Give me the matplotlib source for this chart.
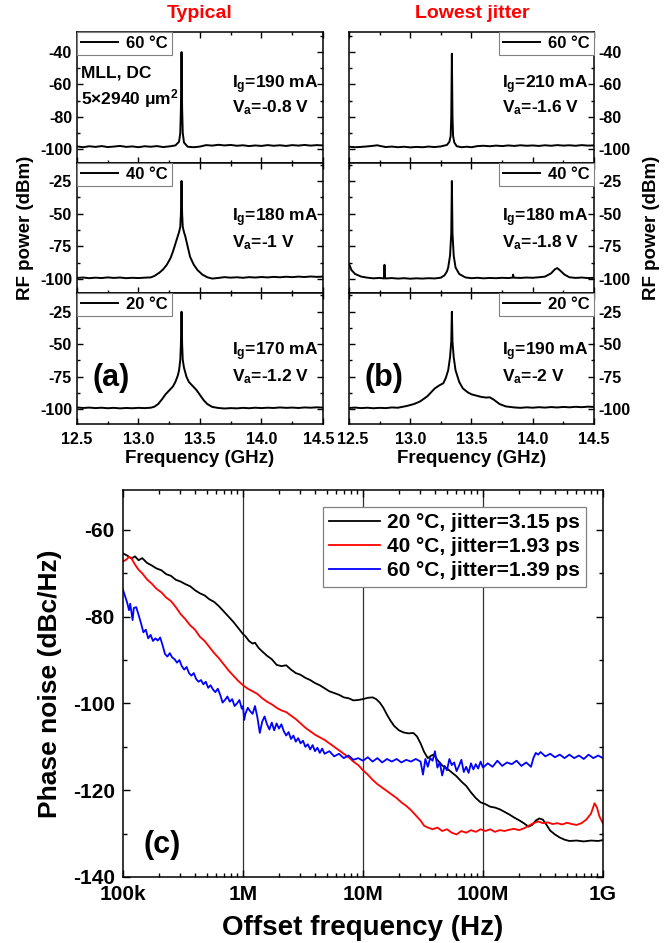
import numpy as np
import matplotlib
matplotlib.use("Agg")
from matplotlib import pyplot as plt
from matplotlib.ticker import MultipleLocator, FuncFormatter, LogLocator, NullFormatter

plt.rcParams["font.family"] = ["Liberation Sans", "DejaVu Sans"]
plt.rcParams["font.weight"] = "bold"
plt.rcParams["axes.labelweight"] = "bold"
plt.rcParams["axes.unicode_minus"] = False
plt.rcParams["mathtext.fontset"] = "custom"
plt.rcParams["mathtext.rm"] = "Liberation Sans:bold"
plt.rcParams["mathtext.it"] = "Liberation Sans:bold"
plt.rcParams["mathtext.bf"] = "Liberation Sans:bold"
plt.rcParams["mathtext.default"] = "regular"

# ---- RF spectra, "Typical" column (GHz, dBm)
typ60_f = [12.50, 12.55, 12.60, 12.65, 12.70, 12.75, 12.80, 12.85, 12.90, 12.95,
           13.00, 13.05, 13.10, 13.15, 13.20, 13.25, 13.30, 13.33, 13.34, 13.345,
           13.35, 13.355, 13.36, 13.37, 13.40, 13.45, 13.50, 13.55, 13.60, 13.65,
           13.70, 13.75, 13.80, 13.85, 13.90, 13.95, 14.00, 14.05, 14.10, 14.15,
           14.20, 14.25, 14.30, 14.35, 14.40, 14.45, 14.50]
typ60_p = [-98.4, -98.9, -98.3, -98.7, -98.2, -98.8, -98.5, -98.1, -98.7, -98.4,
           -98.9, -98.3, -98.6, -98.2, -98.8, -98.4, -97.8, -95.5, -90.0, -75.0,
           -40.0, -75.0, -90.0, -96.0, -98.6, -98.9, -98.5, -97.6, -97.9, -97.4,
           -97.8, -97.5, -98.0, -97.7, -98.2, -97.8, -98.1, -97.6, -98.0, -97.7,
           -98.1, -97.6, -97.9, -97.5, -97.9, -97.6, -97.8]

typ40_f = [12.50, 12.55, 12.60, 12.65, 12.70, 12.75, 12.80, 12.85, 12.90, 12.95,
           13.00, 13.05, 13.10, 13.13, 13.17, 13.20, 13.23, 13.26, 13.28, 13.30,
           13.32, 13.33, 13.34, 13.345, 13.35, 13.355, 13.36, 13.37, 13.38, 13.40,
           13.42, 13.45, 13.48, 13.52, 13.56, 13.60, 13.65, 13.70, 13.75, 13.80,
           13.85, 13.90, 13.95, 14.00, 14.05, 14.10, 14.15, 14.20, 14.25, 14.30,
           14.35, 14.40, 14.45, 14.50]
typ40_p = [-99.0, -98.7, -99.2, -98.8, -99.1, -98.6, -99.0, -98.7, -99.2, -98.9,
           -99.1, -98.8, -98.6, -97.5, -95.0, -92.5, -89.0, -84.0, -79.0, -73.0,
           -67.0, -64.0, -60.0, -50.0, -25.0, -50.0, -60.0, -64.0, -67.0, -75.0,
           -83.0, -89.0, -93.0, -96.5, -98.5, -99.5, -99.0, -98.4, -98.8, -98.5,
           -98.9, -98.4, -98.7, -98.3, -98.6, -98.2, -98.5, -98.1, -98.4, -98.0,
           -98.3, -97.9, -98.2, -98.0]

typ20_f = [12.50, 12.55, 12.60, 12.65, 12.70, 12.75, 12.80, 12.85, 12.90, 12.95,
           13.00, 13.05, 13.10, 13.13, 13.16, 13.19, 13.22, 13.25, 13.28, 13.30,
           13.32, 13.33, 13.34, 13.345, 13.35, 13.355, 13.36, 13.37, 13.39, 13.41,
           13.44, 13.47, 13.50, 13.53, 13.56, 13.60, 13.65, 13.70, 13.75, 13.80,
           13.85, 13.90, 13.95, 14.00, 14.05, 14.10, 14.15, 14.20, 14.25, 14.30,
           14.35, 14.40, 14.45, 14.50]
typ20_p = [-98.6, -99.0, -98.7, -99.1, -98.8, -99.2, -98.9, -99.3, -99.0, -99.2,
           -98.9, -99.1, -98.8, -98.0, -96.0, -92.5, -88.5, -85.5, -82.5, -79.0,
           -74.0, -70.0, -62.0, -50.0, -25.0, -50.0, -62.0, -68.0, -75.0, -79.0,
           -82.0, -85.0, -89.0, -93.0, -96.0, -98.2, -99.0, -99.4, -99.1, -99.3,
           -98.9, -99.2, -98.8, -99.1, -98.8, -99.0, -98.6, -98.9, -98.7, -99.0,
           -98.6, -98.8, -98.5, -98.7]

# ---- RF spectra, "Lowest jitter" column
low60_f = [12.50, 12.55, 12.60, 12.65, 12.70, 12.73, 12.76, 12.80, 12.85, 12.90,
           12.95, 13.00, 13.05, 13.10, 13.15, 13.20, 13.25, 13.30, 13.32, 13.33,
           13.335, 13.34, 13.345, 13.35, 13.36, 13.38, 13.42, 13.46, 13.50, 13.55,
           13.60, 13.65, 13.70, 13.75, 13.80, 13.85, 13.90, 13.95, 14.00, 14.05,
           14.10, 14.15, 14.20, 14.25, 14.30, 14.35, 14.40, 14.45, 14.50]
low60_p = [-98.6, -98.9, -98.7, -98.4, -98.0, -97.7, -98.2, -98.8, -98.5, -98.9,
           -98.6, -99.0, -98.7, -98.9, -98.5, -98.8, -98.4, -97.5, -95.5, -92.0,
           -80.0, -41.0, -80.0, -92.0, -96.0, -98.3, -98.9, -98.6, -98.9, -98.2,
           -98.0, -98.3, -97.9, -98.2, -97.8, -98.1, -97.7, -98.0, -97.8, -98.1,
           -97.7, -98.0, -97.6, -97.9, -97.7, -98.0, -97.6, -97.9, -97.8]

low40_f = [12.50, 12.52, 12.55, 12.60, 12.65, 12.70, 12.75, 12.785, 12.79, 12.795,
           12.85, 12.90, 12.95, 13.00, 13.05, 13.10, 13.15, 13.20, 13.25, 13.28,
           13.30, 13.31, 13.325, 13.335, 13.34, 13.345, 13.355, 13.37, 13.40, 13.45,
           13.50, 13.55, 13.60, 13.65, 13.70, 13.75, 13.80, 13.835, 13.84, 13.845,
           13.90, 13.95, 14.00, 14.05, 14.10, 14.15, 14.18, 14.20, 14.22, 14.26,
           14.30, 14.35, 14.40, 14.45, 14.50]
low40_p = [-88.0, -93.0, -96.0, -98.0, -98.8, -99.3, -99.0, -99.4, -89.0, -99.4,
           -99.1, -99.5, -99.2, -99.6, -99.3, -99.5, -99.2, -99.4, -98.8, -97.0,
           -94.0, -91.0, -82.0, -65.0, -25.0, -65.0, -82.0, -91.0, -96.0, -98.6,
           -99.2, -98.9, -99.3, -99.0, -99.2, -98.9, -99.1, -98.8, -96.5, -98.8,
           -99.0, -98.7, -98.9, -98.5, -98.0, -95.5, -92.5, -91.5, -93.0, -96.5,
           -98.5, -99.0, -98.7, -99.1, -98.9]

low20_f = [12.50, 12.55, 12.60, 12.65, 12.70, 12.75, 12.80, 12.85, 12.90, 12.97,
           13.03, 13.08, 13.14, 13.20, 13.24, 13.27, 13.29, 13.31, 13.325, 13.335,
           13.34, 13.345, 13.355, 13.37, 13.40, 13.43, 13.47, 13.50, 13.54, 13.58,
           13.62, 13.65, 13.68, 13.73, 13.78, 13.85, 13.90, 13.95, 14.00, 14.05,
           14.10, 14.15, 14.20, 14.25, 14.30, 14.35, 14.40, 14.45, 14.50]
low20_p = [-99.0, -98.7, -99.1, -98.8, -99.2, -98.9, -99.1, -98.6, -98.8, -97.5,
           -96.0, -94.0, -90.0, -84.0, -81.5, -80.0, -76.0, -70.0, -60.0, -48.0,
           -25.0, -48.0, -60.0, -70.0, -79.0, -84.0, -87.0, -88.5, -89.5, -90.5,
           -91.0, -90.8, -92.5, -96.0, -97.8, -98.6, -98.9, -98.5, -98.8, -98.4,
           -98.7, -98.3, -98.6, -98.2, -98.5, -98.1, -98.4, -98.0, -98.2]

# ---- phase noise (log10 of offset frequency in Hz, dBc/Hz)
pn20_lf = [5.00, 5.04, 5.07, 5.10, 5.13, 5.16, 5.20, 5.24, 5.28, 5.32,
           5.36, 5.40, 5.44, 5.48, 5.52, 5.56, 5.60, 5.64, 5.68, 5.72,
           5.76, 5.80, 5.84, 5.88, 5.92, 5.96, 6.00, 6.02, 6.05, 6.08,
           6.10, 6.13, 6.16, 6.20, 6.24, 6.28, 6.32, 6.36, 6.40, 6.44,
           6.48, 6.52, 6.56, 6.60, 6.64, 6.68, 6.72, 6.76, 6.80, 6.84,
           6.88, 6.92, 6.96, 7.00, 7.04, 7.08, 7.11, 7.14, 7.17, 7.20,
           7.23, 7.26, 7.30, 7.34, 7.38, 7.42, 7.45, 7.48, 7.51, 7.54,
           7.57, 7.59, 7.62, 7.66, 7.70, 7.74, 7.78, 7.82, 7.86, 7.90,
           7.94, 7.98, 8.02, 8.06, 8.10, 8.14, 8.18, 8.22, 8.26, 8.30,
           8.34, 8.38, 8.41, 8.44, 8.47, 8.50, 8.53, 8.56, 8.60, 8.64,
           8.68, 8.72, 8.78, 8.84, 8.90, 8.96, 9.00]
pn20_db = [-65.4, -66.0, -66.6, -66.1, -67.0, -66.5, -67.6, -68.2, -68.9, -69.3,
           -70.2, -70.6, -71.5, -71.9, -72.5, -73.0, -73.9, -74.6, -75.1, -76.0,
           -76.6, -77.6, -78.8, -80.0, -81.2, -82.6, -84.0, -84.5, -85.6, -86.2,
           -86.0, -87.2, -88.0, -89.0, -89.8, -91.1, -91.4, -91.2, -92.2, -93.0,
           -93.4, -94.1, -94.6, -95.3, -95.8, -96.5, -97.2, -97.6, -98.0, -98.6,
           -98.8, -99.3, -99.2, -99.0, -98.7, -98.6, -99.0, -99.8, -101.0, -102.6,
           -104.0, -105.2, -106.2, -106.7, -106.9, -106.8, -107.6, -109.2, -111.2, -112.6,
           -112.0, -111.8, -113.0, -114.3, -115.0, -115.9, -116.8, -118.0, -119.0, -120.5,
           -121.8, -122.8, -123.2, -123.8, -124.0, -124.4, -125.0, -125.6, -126.3, -126.9,
           -127.6, -128.4, -128.0, -127.0, -126.5, -126.8, -128.0, -129.3, -130.2, -130.9,
           -131.4, -131.7, -131.6, -131.8, -131.6, -131.7, -131.5]

pn40_lf = [5.00, 5.03, 5.05, 5.07, 5.10, 5.13, 5.16, 5.20, 5.24, 5.28,
           5.32, 5.36, 5.40, 5.44, 5.48, 5.52, 5.56, 5.60, 5.64, 5.68,
           5.72, 5.76, 5.80, 5.84, 5.88, 5.92, 5.96, 6.00, 6.04, 6.08,
           6.12, 6.16, 6.20, 6.24, 6.28, 6.32, 6.36, 6.40, 6.44, 6.48,
           6.52, 6.56, 6.60, 6.64, 6.68, 6.72, 6.76, 6.80, 6.84, 6.88,
           6.92, 6.96, 7.00, 7.04, 7.08, 7.12, 7.16, 7.20, 7.24, 7.28,
           7.32, 7.36, 7.40, 7.44, 7.48, 7.51, 7.54, 7.58, 7.62, 7.66,
           7.70, 7.74, 7.78, 7.82, 7.86, 7.90, 7.94, 7.98, 8.02, 8.06,
           8.10, 8.14, 8.18, 8.22, 8.26, 8.30, 8.34, 8.38, 8.42, 8.46,
           8.50, 8.54, 8.58, 8.62, 8.66, 8.70, 8.74, 8.78, 8.82, 8.86,
           8.90, 8.93, 8.95, 8.97, 9.00]
pn40_db = [-67.3, -66.8, -66.2, -66.5, -68.0, -69.2, -70.0, -71.4, -72.4, -73.6,
           -74.4, -75.6, -76.4, -77.8, -79.4, -80.6, -82.0, -83.0, -84.6, -85.6,
           -87.0, -88.4, -89.6, -91.0, -92.4, -93.6, -94.8, -95.8, -96.6, -97.2,
           -97.8, -98.8, -99.6, -100.2, -101.0, -101.6, -102.0, -102.8, -103.6, -104.6,
           -105.6, -106.4, -107.2, -107.8, -108.4, -109.2, -110.0, -110.8, -111.6, -112.4,
           -113.4, -114.2, -115.4, -116.4, -117.6, -118.6, -119.4, -120.2, -121.0, -121.8,
           -122.8, -123.6, -124.6, -125.8, -127.0, -128.2, -128.6, -129.0, -128.6, -129.4,
           -129.0, -129.8, -130.2, -129.4, -129.8, -129.2, -129.6, -129.0, -129.4, -129.0,
           -129.6, -129.2, -129.4, -129.1, -128.9, -129.2, -128.8, -128.2, -127.6, -127.2,
           -127.6, -127.4, -127.8, -127.6, -127.9, -127.5, -127.8, -128.0, -127.6, -126.8,
           -125.4, -123.0, -124.0, -126.0, -127.7]

pn60_lf = [5.00, 5.02, 5.035, 5.05, 5.06, 5.08, 5.09, 5.11, 5.13, 5.15,
           5.17, 5.19, 5.21, 5.23, 5.25, 5.27, 5.29, 5.31, 5.33, 5.35,
           5.37, 5.39, 5.41, 5.43, 5.45, 5.47, 5.49, 5.51, 5.53, 5.55,
           5.57, 5.59, 5.61, 5.63, 5.65, 5.67, 5.69, 5.71, 5.73, 5.75,
           5.77, 5.79, 5.81, 5.83, 5.85, 5.87, 5.89, 5.91, 5.93, 5.95,
           5.97, 5.99, 6.00, 6.01, 6.02, 6.04, 6.06, 6.08, 6.10, 6.12,
           6.14, 6.16, 6.18, 6.20, 6.22, 6.24, 6.26, 6.28, 6.30, 6.32,
           6.34, 6.36, 6.38, 6.40, 6.42, 6.44, 6.46, 6.48, 6.50, 6.52,
           6.54, 6.56, 6.58, 6.60, 6.62, 6.64, 6.66, 6.68, 6.72, 6.76,
           6.80, 6.84, 6.88, 6.92, 6.96, 7.00, 7.04, 7.08, 7.12, 7.16,
           7.20, 7.24, 7.28, 7.32, 7.36, 7.40, 7.44, 7.48, 7.50, 7.52,
           7.54, 7.56, 7.58, 7.60, 7.62, 7.64, 7.66, 7.68, 7.70, 7.72,
           7.74, 7.76, 7.78, 7.80, 7.82, 7.84, 7.86, 7.88, 7.90, 7.92,
           7.94, 7.96, 7.98, 8.00, 8.04, 8.08, 8.12, 8.16, 8.20, 8.24,
           8.28, 8.32, 8.36, 8.40, 8.42, 8.44, 8.46, 8.48, 8.52, 8.56,
           8.60, 8.64, 8.68, 8.72, 8.76, 8.80, 8.84, 8.88, 8.92, 8.96,
           9.00]
pn60_db = [-73.8, -75.5, -76.8, -78.5, -77.0, -80.8, -78.0, -77.8, -79.6, -81.5,
           -83.6, -83.0, -85.0, -84.2, -85.6, -85.0, -85.5, -84.8, -86.6, -88.6,
           -89.2, -88.4, -89.4, -89.8, -90.6, -90.0, -91.4, -92.2, -91.6, -93.0,
           -93.6, -93.0, -94.4, -95.0, -94.6, -95.6, -95.0, -96.4, -95.8, -96.8,
           -97.4, -96.6, -98.0, -99.8, -99.2, -98.4, -99.6, -99.0, -100.6, -100.0,
           -99.2, -101.2, -100.6, -103.8, -102.4, -101.0, -101.8, -102.4, -100.6, -103.2,
           -106.8, -104.2, -103.0, -104.8, -106.0, -104.4, -106.2, -104.6, -105.8, -104.8,
           -106.4, -107.4, -106.6, -108.2, -107.4, -108.8, -108.0, -109.2, -108.6, -110.0,
           -109.4, -110.6, -109.6, -111.0, -110.2, -111.4, -110.4, -111.6, -111.0, -112.2,
           -111.6, -112.6, -112.0, -113.0, -112.6, -113.2, -112.4, -113.4, -112.6, -113.6,
           -112.8, -113.4, -112.8, -113.6, -113.0, -113.4, -112.8, -113.4, -116.4, -112.8,
           -114.6, -112.6, -113.2, -111.0, -114.8, -113.6, -116.6, -114.4, -115.4, -112.8,
           -114.2, -113.6, -115.6, -114.4, -113.0, -115.8, -114.6, -116.0, -113.8, -115.2,
           -114.0, -115.0, -113.4, -114.8, -113.8, -114.6, -113.2, -114.4, -113.6, -114.0,
           -113.2, -114.4, -113.6, -114.6, -112.6, -111.4, -111.8, -111.2, -112.2, -111.6,
           -112.4, -111.8, -112.6, -111.8, -112.6, -112.0, -112.8, -111.8, -112.6, -112.0,
           -112.6]

temps = ["60 \u00b0C", "40 \u00b0C", "20 \u00b0C"]
typ_bias = [("190", "-0.8"), ("180", "-1"), ("170", "-1.2")]
low_bias = [("210", "-1.6"), ("180", "-1.8"), ("190", "-2")]
pn_labels = ["20 \u00b0C, jitter=3.15 ps", "40 \u00b0C, jitter=1.93 ps", "60 \u00b0C, jitter=1.39 ps"]

fig = plt.figure(figsize=(6.67, 9.43), dpi=100)

row_rects = [(0.8271, 0.1389), (0.6893, 0.1378), (0.5504, 0.1389)]
col_rects = [(0.1154, 0.3688), (0.5232, 0.3673)]
ylims = [(-108.7, -27.6), (-110.5, -11.3), (-111.3, -10.6)]
ysteps = [(20, 10), (25, 12.5), (25, 12.5)]
bias_y = [(0.595, 0.42), (0.577, 0.385), (0.55, 0.359)]

columns = [
    ([(typ60_f, typ60_p), (typ40_f, typ40_p), (typ20_f, typ20_p)], typ_bias, "left"),
    ([(low60_f, low60_p), (low40_f, low40_p), (low20_f, low20_p)], low_bias, "right"),
]


def freq_formatter(skip):
    # the shared edge label (14.5 | 12.5) is drawn separately, nudged apart
    def fmt(v, pos):
        if abs(v - skip) < 1e-6:
            return ""
        return "%.1f" % v
    return FuncFormatter(fmt)


for c, (curves, biases, side) in enumerate(columns):
    x0, w = col_rects[c]
    for r in range(3):
        y0, h = row_rects[r]
        ax = fig.add_axes([x0, y0, w, h])
        f, p = curves[r]
        line, = ax.plot(f, p, color="k", lw=1.4)
        ax.set_xlim(12.5, 14.5)
        ax.set_ylim(*ylims[r])
        ax.xaxis.set_major_locator(MultipleLocator(0.5))
        ax.xaxis.set_minor_locator(MultipleLocator(0.25))
        ax.yaxis.set_major_locator(MultipleLocator(ysteps[r][0]))
        ax.yaxis.set_minor_locator(MultipleLocator(ysteps[r][1]))
        ax.tick_params(which="both", direction="in", top=True, right=True,
                       left=True, bottom=True, labelsize=11.5, width=1)
        ax.tick_params(which="major", length=4.5)
        ax.tick_params(which="minor", length=2.5)
        ax.tick_params(axis="x", pad=6)
        if side == "right":
            ax.tick_params(labelleft=False, labelright=True)
        if r < 2:
            ax.tick_params(labelbottom=False)
        for s in ax.spines.values():
            s.set_linewidth(1.1)

        leg = ax.legend([line], [temps[r]], loc="upper " + side, borderaxespad=0,
                        fancybox=False, edgecolor="#808080", framealpha=1,
                        handlelength=2.2, handletextpad=0.5, borderpad=0.25,
                        prop={"size": 12, "weight": "bold"})
        leg.get_frame().set_linewidth(0.8)

        bx = 0.63 if side == "left" else 0.624
        ig, va = biases[r]
        ax.text(bx, bias_y[r][0], "I$_g$=%s mA" % ig, transform=ax.transAxes,
                fontsize=12.5, va="center", ha="left")
        ax.text(bx, bias_y[r][1], "V$_a$=%s V" % va, transform=ax.transAxes,
                fontsize=12.5, va="center", ha="left")

        if c == 0 and r == 0:
            ax.text(0.015, 0.687, "MLL, DC", transform=ax.transAxes,
                    fontsize=12.5, va="center", ha="left")
            ax.text(0.015, 0.496, "5\u00d72940 \u03bcm$^2$", transform=ax.transAxes,
                    fontsize=12.5, va="center", ha="left")
        if r == 2:
            edge = 14.5 if c == 0 else 12.5
            ax.xaxis.set_major_formatter(freq_formatter(edge))
            ax.annotate("%.1f" % edge, xy=(edge, 0), xycoords=("data", "axes fraction"),
                        xytext=(-3 if c == 0 else 3, -6), textcoords="offset points",
                        ha="center", va="top", fontsize=11.5, annotation_clip=False)
            ax.text(0.065, 0.35, "(a)" if c == 0 else "(b)", transform=ax.transAxes,
                    fontsize=22, va="center", ha="left")
            ax.set_xlabel("Frequency (GHz)", fontsize=13.5, labelpad=2)

fig.text(200 / 667, 1 - 14 / 943, "Typical", color="red", fontsize=14,
         ha="center", va="center")
fig.text(472 / 667, 1 - 14 / 943, "Lowest jitter", color="red", fontsize=14,
         ha="center", va="center")
fig.text(25 / 667, 1 - 228 / 943, "RF power (dBm)", rotation=90, fontsize=13.5,
         ha="center", va="center")
fig.text(651 / 667, 1 - 228 / 943, "RF power (dBm)", rotation=90, fontsize=13.5,
         ha="center", va="center")

# ---- phase noise panel
ax = fig.add_axes([0.1844, 0.0700, 0.7196, 0.4104])
for x in [1e6, 1e7, 1e8]:
    ax.axvline(x, color="#333333", lw=0.9, zorder=0)
pn_sets = [(pn20_lf, pn20_db, "k"), (pn40_lf, pn40_db, "#ff0000"), (pn60_lf, pn60_db, "#0000ff")]
for (lf, db, col), lab in zip(pn_sets, pn_labels):
    ax.plot(10 ** np.array(lf), db, color=col, lw=1.3, label=lab)
ax.set_xscale("log")
ax.set_xlim(1e5, 1e9)
ax.set_ylim(-140, -50.8)
ax.set_xticks([1e5, 1e6, 1e7, 1e8, 1e9])
ax.set_xticklabels(["100k", "1M", "10M", "100M", "1G"])
ax.xaxis.set_minor_locator(LogLocator(base=10, subs=np.arange(2, 10)))
ax.xaxis.set_minor_formatter(NullFormatter())
ax.yaxis.set_major_locator(MultipleLocator(20))
ax.yaxis.set_minor_locator(MultipleLocator(10))
ax.tick_params(which="both", direction="in", top=True, right=True, labelsize=15, width=1)
ax.tick_params(which="major", length=5, pad=6)
ax.tick_params(which="minor", length=3)
for s in ax.spines.values():
    s.set_linewidth(1.1)
ax.set_xlabel("Offset frequency (Hz)", fontsize=20, labelpad=8)
ax.set_ylabel("Phase noise (dBc/Hz)", fontsize=19, labelpad=8)
ax.text(0.042, 0.083, "(c)", transform=ax.transAxes, fontsize=22, va="center", ha="left")
leg = ax.legend(loc="upper right", borderaxespad=0.8, fancybox=False, edgecolor="#808080",
                framealpha=1, handlelength=2.45, handletextpad=0.35, borderpad=0.3,
                labelspacing=0.25, prop={"size": 15, "weight": "bold"})
leg.get_frame().set_linewidth(0.9)

fig.savefig("out.png", dpi=100)
